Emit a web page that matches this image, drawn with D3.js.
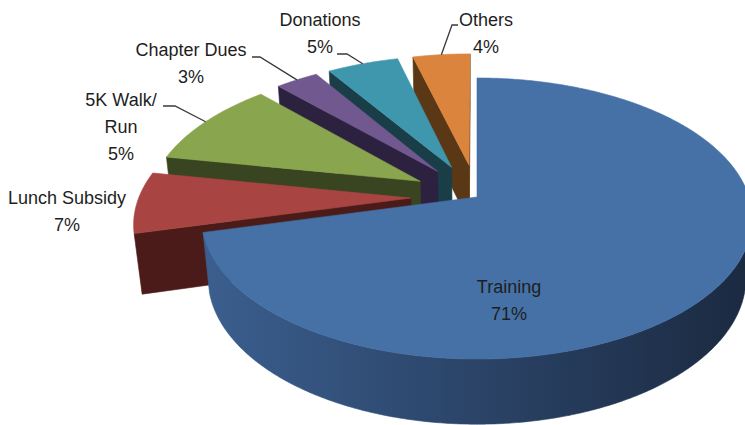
<!DOCTYPE html>
<html>
<head>
<meta charset="utf-8">
<script src="https://cdn.jsdelivr.net/npm/d3@7"></script>
<style>
  body { margin: 0; background: #fff; }
  text { font-family: "Liberation Sans", Arial, sans-serif; font-size: 18px; fill: #1e1e1e; }
</style>
</head>
<body>
<div id="chart"></div>
<script>
const categories = ["Training", "Lunch Subsidy", "5K Walk/Run", "Chapter Dues", "Donations", "Others"];
// slice sizes as drawn; the 5K slice is drawn about twice what its label says
const values = [71, 7, 10, 3, 5, 4];
const pctLabels = ["71%", "7%", "5%", "3%", "5%", "4%"];
const topColors = ["#4571a6", "#a84441", "#89a54e", "#71588f", "#3f97ae", "#db843d"];
const wallColors = ["#1e2e47", "#4a1b19", "#394420", "#2c2240", "#1a3e48", "#5a3715"];
const explode = [0, 66, 66, 66, 66, 66];

const width = 745, height = 425;
const cx = 477, cy = 197;       // screen spot of the pie centre (top face)
const R = 272, H = 70;           // radius and thickness, model units
const phi = 30.3 * Math.PI / 180; // tilt
const F = 1535;                  // camera distance

// where the label text sits and the elbow of its leader line
const labelLayout = [
  { x: 509, y: 287, leader: null },
  { x: 67, y: 198, leader: null },
  { x: 121, y: 100, leader: [[163, 106], [175, 106]] },
  { x: 191, y: 50, leader: [[252, 57], [260, 57]] },
  { x: 320, y: 20, leader: [[337, 54], [347, 54]] },
  { x: 486, y: 20, leader: [[458, 25], [452, 25]] }
];
const lineGap = 27;

const svg = d3.select("#chart").append("svg")
  .attr("width", width)
  .attr("height", height);

const defs = svg.append("defs");
const grad = defs.append("linearGradient")
  .attr("id", "sideGrad")
  .attr("gradientUnits", "userSpaceOnUse")
  .attr("x1", 200).attr("x2", 745).attr("y1", 0).attr("y2", 0);
grad.append("stop").attr("offset", "0%").attr("stop-color", "#3b5f8f");
grad.append("stop").attr("offset", "50%").attr("stop-color", "#2b4468");
grad.append("stop").attr("offset", "100%").attr("stop-color", "#1b2a41");

const cosP = Math.cos(phi), sinP = Math.sin(phi);

// X right, Z toward viewer, h up
function proj(X, Z, h) {
  const t = Z * cosP + h * sinP;
  const s = F / (F - t);
  return [cx + X * s, cy + (Z * sinP - h * cosP) * s];
}

const pie = d3.pie().sort(null).value(d => d);
const arcs = pie(values);

const line = d3.line();
const step = 0.5 * Math.PI / 180;

function sliceGeom(a, i) {
  const m = (a.startAngle + a.endAngle) / 2;
  const ox = explode[i] * Math.sin(m);
  const oz = -explode[i] * Math.cos(m);
  const pt = (th, r, h) => proj(ox + r * Math.sin(th), oz - r * Math.cos(th), h);
  const n = Math.max(2, Math.ceil((a.endAngle - a.startAngle) / step));
  const angles = d3.range(n + 1).map(k => a.startAngle + (a.endAngle - a.startAngle) * k / n);
  return { m, ox, oz, pt, angles };
}

const groups = svg.append("g");

// back slices first, Training last
arcs.slice().reverse().forEach(a => {
  const i = a.index;
  const g = sliceGeom(a, i);
  const gEl = groups.append("g");

  // start wall
  const sv = g.ox * Math.cos(a.startAngle) - (F * cosP - g.oz) * Math.sin(a.startAngle);
  if (sv > 0.01) {
    const p = [g.pt(a.startAngle, 0, 0), g.pt(a.startAngle, R, 0), g.pt(a.startAngle, R, -H), g.pt(a.startAngle, 0, -H)];
    gEl.append("path").attr("d", line(p) + "Z")
      .attr("fill", wallColors[i]).attr("stroke", wallColors[i]).attr("stroke-width", 0.6);
  }
  // end wall
  const ev = -g.ox * Math.cos(a.endAngle) + (F * cosP - g.oz) * Math.sin(a.endAngle);
  if (ev > 0.01) {
    const p = [g.pt(a.endAngle, 0, 0), g.pt(a.endAngle, R, 0), g.pt(a.endAngle, R, -H), g.pt(a.endAngle, 0, -H)];
    gEl.append("path").attr("d", line(p) + "Z")
      .attr("fill", wallColors[i]).attr("stroke", wallColors[i]).attr("stroke-width", 0.6);
  }

  // curved outer side, only where it faces the camera
  const vis = th => -g.ox * Math.sin(th) + g.oz * Math.cos(th) - R - F * cosP * Math.cos(th) > 0;
  let runs = [], cur = [];
  g.angles.forEach(th => {
    if (vis(th)) cur.push(th);
    else if (cur.length) { runs.push(cur); cur = []; }
  });
  if (cur.length) runs.push(cur);
  runs.filter(r => r.length > 1).forEach(run => {
    const p = run.map(th => g.pt(th, R, 0)).concat(run.slice().reverse().map(th => g.pt(th, R, -H)));
    const fill = i === 0 ? "url(#sideGrad)" : wallColors[i];
    gEl.append("path").attr("d", line(p) + "Z")
      .attr("fill", fill).attr("stroke", fill).attr("stroke-width", 0.6);
  });

  // top face
  const topPts = [g.pt(0, 0, 0)].concat(g.angles.map(th => g.pt(th, R, 0)));
  gEl.append("path").attr("d", line(topPts) + "Z")
    .attr("fill", topColors[i]).attr("stroke", topColors[i]).attr("stroke-width", 0.6);
});

// labels
const labels = svg.append("g");
arcs.forEach(a => {
  const i = a.index;
  const lay = labelLayout[i];
  const g = sliceGeom(a, i);
  if (lay.leader) {
    const tip = g.pt(g.m, R, 0);
    labels.append("path")
      .attr("d", line([lay.leader[0], lay.leader[1], tip]))
      .attr("fill", "none").attr("stroke", "#3a3a3a").attr("stroke-width", 1.3);
  }
  const nameLines = i === 0 || i === 1 ? [categories[i]] : categories[i].split(/(?<=\/)/);
  const lines = nameLines.concat([pctLabels[i]]);
  lines.forEach((t, k) => {
    labels.append("text")
      .attr("x", lay.x)
      .attr("y", lay.y + k * lineGap + 6)
      .attr("text-anchor", "middle")
      .text(t);
  });
});
</script>
</body>
</html>
